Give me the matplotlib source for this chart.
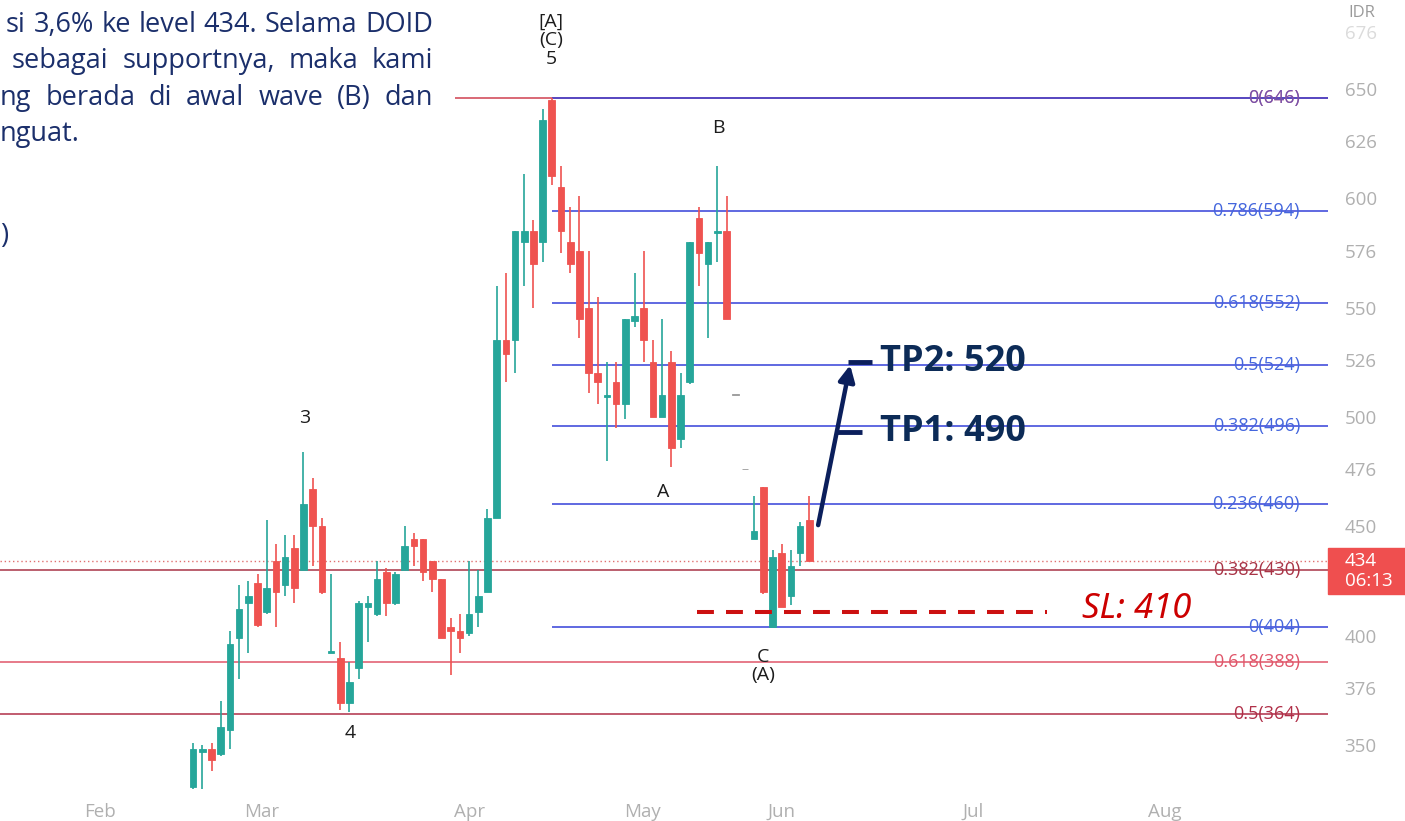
import numpy as np
import matplotlib.pyplot as plt
import matplotlib.transforms as mtransforms
from matplotlib.patches import Rectangle

# daily bars (bar 0 = first visible candle, late Feb)
opens  = [331, 347, 348, 346, 357, 399, 415, 424, 411, 434, 423, 440, 430, 467, 450, 392, 390,
          369, 385, 413, 410, 429, 415, 430, 444, 444, 434, 426, 404, 402, 401, 411, 420, 454,
          535, 535, 580, 585, 580, 645, 605, 580, 576, 550, 520, 509, 516, 506, 544, 550, 525,
          500, 525, 490, 516, 591, 570, 584, 585, 510, 476, 444, 468, 404, 438, 418, 438, 453]
highs  = [351, 350, 351, 370, 402, 423, 425, 428, 453, 442, 446, 446, 484, 472, 454, 428, 397,
          388, 416, 418, 434, 431, 429, 450, 447, 444, 434, 426, 408, 410, 434, 430, 458, 560,
          566, 585, 611, 590, 641, 646, 615, 596, 601, 576, 555, 525, 525, 545, 566, 576, 535,
          545, 530, 520, 580, 596, 580, 615, 601, 510, 476, 464, 468, 439, 442, 439, 452, 464]
lows   = [330, 330, 338, 345, 348, 380, 392, 404, 410, 404, 418, 415, 430, 432, 419, 392, 366,
          365, 380, 397, 409, 409, 414, 430, 432, 425, 420, 399, 382, 392, 400, 404, 420, 454,
          516, 520, 560, 550, 571, 606, 575, 566, 536, 511, 506, 480, 495, 499, 541, 525, 500,
          500, 477, 486, 515, 560, 536, 571, 545, 510, 476, 444, 419, 404, 413, 414, 432, 434]
closes = [348, 348, 343, 358, 396, 412, 418, 405, 422, 420, 436, 422, 460, 450, 420, 393, 369,
          379, 415, 415, 426, 415, 428, 441, 441, 429, 426, 399, 402, 399, 410, 418, 454, 535,
          529, 585, 585, 570, 636, 610, 585, 570, 545, 520, 516, 510, 506, 545, 546, 535, 500,
          510, 486, 510, 580, 575, 580, 585, 545, 510, 476, 448, 420, 436, 413, 432, 450, 434]

months = ['Feb', 'Mar', 'Apr', 'May', 'Jun', 'Jul', 'Aug']
month_pos = [-10.1, 7.5, 30.1, 48.9, 64.0, 84.8, 105.7]
price_ticks = [350, 376, 400, 450, 476, 500, 526, 550, 576, 600, 626, 650, 676]

# fibonacci levels
blue_levels = [646, 594, 552, 524, 496, 460, 404]
blue_ratios = ['0', '0.786', '0.618', '0.5', '0.382', '0.236', '0']
red_levels = [430, 388, 364]
red_ratios = ['0.382', '0.618', '0.5']
red_cols = ['#a83446', '#e0566a', '#b02f48']

tp2, tp1, sl = 525, 493, 411

o = np.array(opens); h = np.array(highs); l = np.array(lows); c = np.array(closes)
x = np.arange(len(o))
up = c >= o
flat = h == l

fig = plt.figure(figsize=(14.05, 8.21), dpi=100)
ax = fig.add_axes([0, 29/821, 1328/1405, 792/821])
xr = 123.4
ax.set_xlim(-21.0, xr)
ax.set_ylim(328.5, 690.7)

green, red = '#26a69a', '#ef5350'
cols = np.where(up, green, red).astype(object)
cols[flat] = '#999999'

ax.vlines(x[~flat], l[~flat], h[~flat], colors=list(cols[~flat]), lw=1.2, zorder=3)
ax.bar(x, np.maximum(np.abs(c - o), 0.4), bottom=np.minimum(o, c), width=0.72,
       color=list(cols), edgecolor=list(cols), lw=0.6, zorder=3)

# fib lines
blend = mtransforms.blended_transform_factory(ax.transAxes, ax.transData)
lk = dict(transform=blend, ha='right', va='center', fontsize=13, family='Open Sans', zorder=4)
ax.hlines(646, 28.5, xr, colors='#d04050', lw=1.1, zorder=2)
ax.hlines(434, -21, xr, colors='#e07070', lw=1, linestyles=(0, (1, 2)), zorder=2)
for lv, rt, cl in zip(red_levels, red_ratios, red_cols):
    ax.hlines(lv, -21, xr, colors=cl, lw=1.1, zorder=2)
    ax.text(0.979, lv, f'{rt}({lv})', color=cl, **lk)
for lv in blue_levels:
    ax.hlines(lv, 39, xr, colors='#3440d8', lw=1.1, zorder=2)
for lv, rt in zip(blue_levels, blue_ratios):
    if lv == 646:
        ax.text(0.979, lv, f'{rt}({lv})', color='#d04050', **lk)
        ax.text(0.979, lv, f'{rt}({lv})', color='#4a5ad8', alpha=0.7, **lk)
    else:
        ax.text(0.979, lv, f'{rt}({lv})', color='#4466dd', **lk)

# wave labels
wk = dict(ha='center', va='center', color='#1c1c1c', fontsize=14, family='Open Sans', zorder=5)
ax.text(38.9, 672.4, '[A]\n(C)\n5', linespacing=1.05, **wk)
ax.text(12.1, 499.6, '3', **wk)
ax.text(17.1, 355.5, '4', **wk)
ax.text(57.1, 632.2, 'B', **wk)
ax.text(51.1, 465.7, 'A', **wk)
ax.text(62.0, 386.2, 'C\n(A)', linespacing=1.0, **wk)

# targets
navy = '#0b1f5c'
ax.annotate('', xy=(71.5, tp2), xytext=(67.9, 449.3),
            arrowprops=dict(arrowstyle='-|>', color=navy, lw=3.2, mutation_scale=24), zorder=6)
ax.plot([71.2, 73.8], [tp2, tp2], color=navy, lw=3.5, solid_capstyle='butt', zorder=6)
ax.plot([70.0, 72.7], [tp1, tp1], color=navy, lw=3.5, solid_capstyle='butt', zorder=6)
ax.text(74.7, tp2, 'TP2: 520', ha='left', va='center', color='#0c2b57', fontsize=26,
        fontweight='bold', family='Open Sans', zorder=6)
ax.text(74.7, tp1, 'TP1: 490', ha='left', va='center', color='#0c2b57', fontsize=26,
        fontweight='bold', family='Open Sans', zorder=6)
ax.hlines(sl, 54.8, 92.8, colors='#cc1010', lw=2.9, linestyles=(0, (4.2, 3.0)), zorder=6)
ax.text(96.7, sl + 1, 'SL: 410', ha='left', va='center', color='#cc0000', fontsize=25,
        style='italic', family=['Noto Sans', 'DejaVu Sans'], zorder=6)

# axes styling
for s in ax.spines.values():
    s.set_visible(False)
ax.yaxis.tick_right()
ax.set_yticks(price_ticks)
ax.set_xticks(month_pos)
ax.set_xticklabels(months)
ax.tick_params(axis='both', length=0, colors='#b0b0b0', labelsize=13.5)
ax.tick_params(axis='y', pad=12)
ax.tick_params(axis='x', pad=8)
for t in ax.get_xticklabels() + ax.get_yticklabels():
    t.set_family('Open Sans')
ax.get_yticklabels()[-1].set_alpha(0.45)

# last price box
ax.add_patch(Rectangle((1.0, c[-1] - 15), 0.1, 21, transform=blend, color='#ef4f4f',
                       clip_on=False, zorder=7))
ax.annotate(f'{c[-1]}', xy=(1.0, c[-1]), xycoords=blend, xytext=(12, 0),
            textcoords='offset points', va='center', color='white', fontsize=13.5,
            family='Open Sans', zorder=8, annotation_clip=False)
ax.annotate('06:13', xy=(1.0, c[-1] - 9), xycoords=blend, xytext=(12, 0),
            textcoords='offset points', va='center', color='white', fontsize=13.5,
            family='Open Sans', zorder=8, annotation_clip=False)
fig.text(1362/1405, 1 - 13/821, 'IDR', ha='center', va='center', color='#9a9a9a',
         fontsize=12, family='Open Sans')

# cropped paragraph at the top left (justified)
para = ['si 3,6% ke level 434. Selama DOID',
        'sebagai supportnya, maka kami',
        'ng berada di awal wave (B) dan']
starts = [6, 12, 0]
bases = [32, 68, 105]
tk = dict(color='#1b2f6b', fontsize=19.5, family='Open Sans', va='baseline')
r = fig.canvas.get_renderer()
for line, x0, yb in zip(para, starts, bases):
    words = line.split()
    arts = [fig.text(0, 1 - yb/821, w, **tk) for w in words]
    wd = [a.get_window_extent(r).width for a in arts]
    gap = (433 - x0 - sum(wd)) / (len(words) - 1)
    pos = x0
    for a, w in zip(arts, wd):
        a.set_x(pos/1405)
        pos += w + gap
fig.text(0, 1 - 141/821, 'nguat.', **tk)
fig.text(0, 1 - 243/821, ')', ha='left', **tk)

fig.savefig('out.png', dpi=100, facecolor='white')
